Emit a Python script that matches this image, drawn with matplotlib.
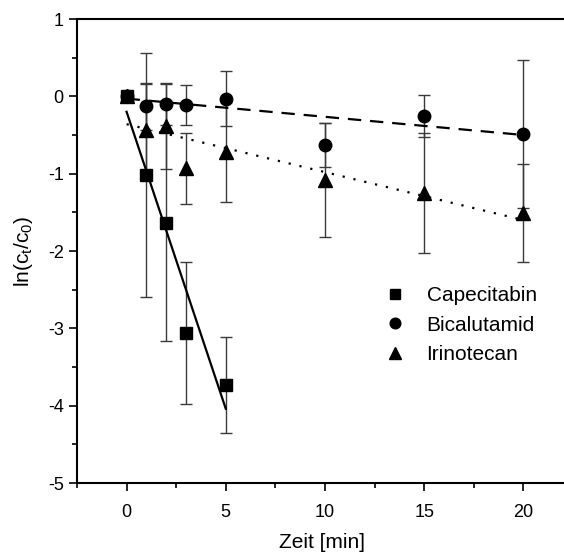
import matplotlib
matplotlib.use("Agg")
import matplotlib.pyplot as plt
import numpy as np

plt.rcParams['font.family'] = ['Liberation Sans', 'DejaVu Sans']
plt.rcParams['mathtext.default'] = 'regular'
plt.rcParams['axes.unicode_minus'] = False

# data
t_cap = [0, 1, 2, 3, 5]
y_cap = [0.0, -1.02, -1.64, -3.06, -3.73]
e_cap = [0.0, 1.58, 1.53, 0.92, 0.62]

t_bic = [0, 1, 2, 3, 5, 10, 15, 20]
y_bic = [0.0, -0.13, -0.10, -0.11, -0.03, -0.63, -0.25, -0.49]
e_bic = [0.0, 0.30, 0.27, 0.255, 0.36, 0.29, 0.27, 0.96]

t_iri = [0, 1, 2, 3, 5, 10, 15, 20]
y_iri = [0.0, -0.44, -0.39, -0.93, -0.72, -1.08, -1.25, -1.51]
e_iri = [0.0, 0.60, 0.55, 0.46, 0.65, 0.74, 0.77, 0.63]

# linear fits (intercept, slope, range)
fit_cap = (-0.20, -0.768, 0, 5)
fit_bic = (-0.03, -0.0235, 0, 20)
fit_iri = (-0.36, -0.062, 0, 20)

fig = plt.figure(figsize=(5.64, 5.56), dpi=100)
ax = fig.add_axes([77 / 564, 73 / 556, 490 / 564, 464 / 556])

ebkw = dict(ecolor='#3a3a3a', elinewidth=1.0, capsize=4, capthick=1.0, ls='none', mfc='black', mec='black')
ax.errorbar(t_cap, y_cap, yerr=e_cap, marker='s', ms=8.5, label='Capecitabin', **ebkw)
ax.errorbar(t_bic, y_bic, yerr=e_bic, marker='o', ms=9, label='Bicalutamid', **ebkw)
ax.errorbar(t_iri, y_iri, yerr=e_iri, marker='^', ms=9.5, label='Irinotecan', **ebkw)

for (b, m, x0, x1), ls in [(fit_cap, '-'), (fit_bic, (0, (6, 4))), (fit_iri, (0, (1, 4)))]:
    xx = np.array([x0, x1])
    ax.plot(xx, b + m * xx, color='black', lw=1.6, ls=ls)

ax.set_xlim(-2.5, 22.2)
ax.set_ylim(-5, 1)
ax.set_xticks([0, 5, 10, 15, 20])
ax.set_xticks(np.arange(-2.5, 22.5, 2.5), minor=True)
ax.set_yticks(np.arange(-5, 2, 1))
ax.set_yticks(np.arange(-5, 1.5, 0.5), minor=True)
ax.tick_params(which='major', direction='out', length=6, width=1.2, labelsize=13)
ax.tick_params(which='minor', direction='out', length=3.5, width=1.2)
ax.tick_params(axis='x', which='major', pad=9)
for s in ax.spines.values():
    s.set_linewidth(1.5)

ax.set_xlabel('Zeit [min]', fontsize=15, labelpad=9)
ax.set_ylabel(r'ln(c$_t$/c$_0$)', fontsize=15, labelpad=9)

h, l = ax.get_legend_handles_labels()
h = [hh[0] for hh in h]
ax.legend(h, l, loc='center left', bbox_to_anchor=(0.59, 0.34), frameon=False,
          fontsize=15, handlelength=1.0, handletextpad=1.0, labelspacing=0.5, markerscale=0.85)

fig.savefig('out.png', dpi=100)
